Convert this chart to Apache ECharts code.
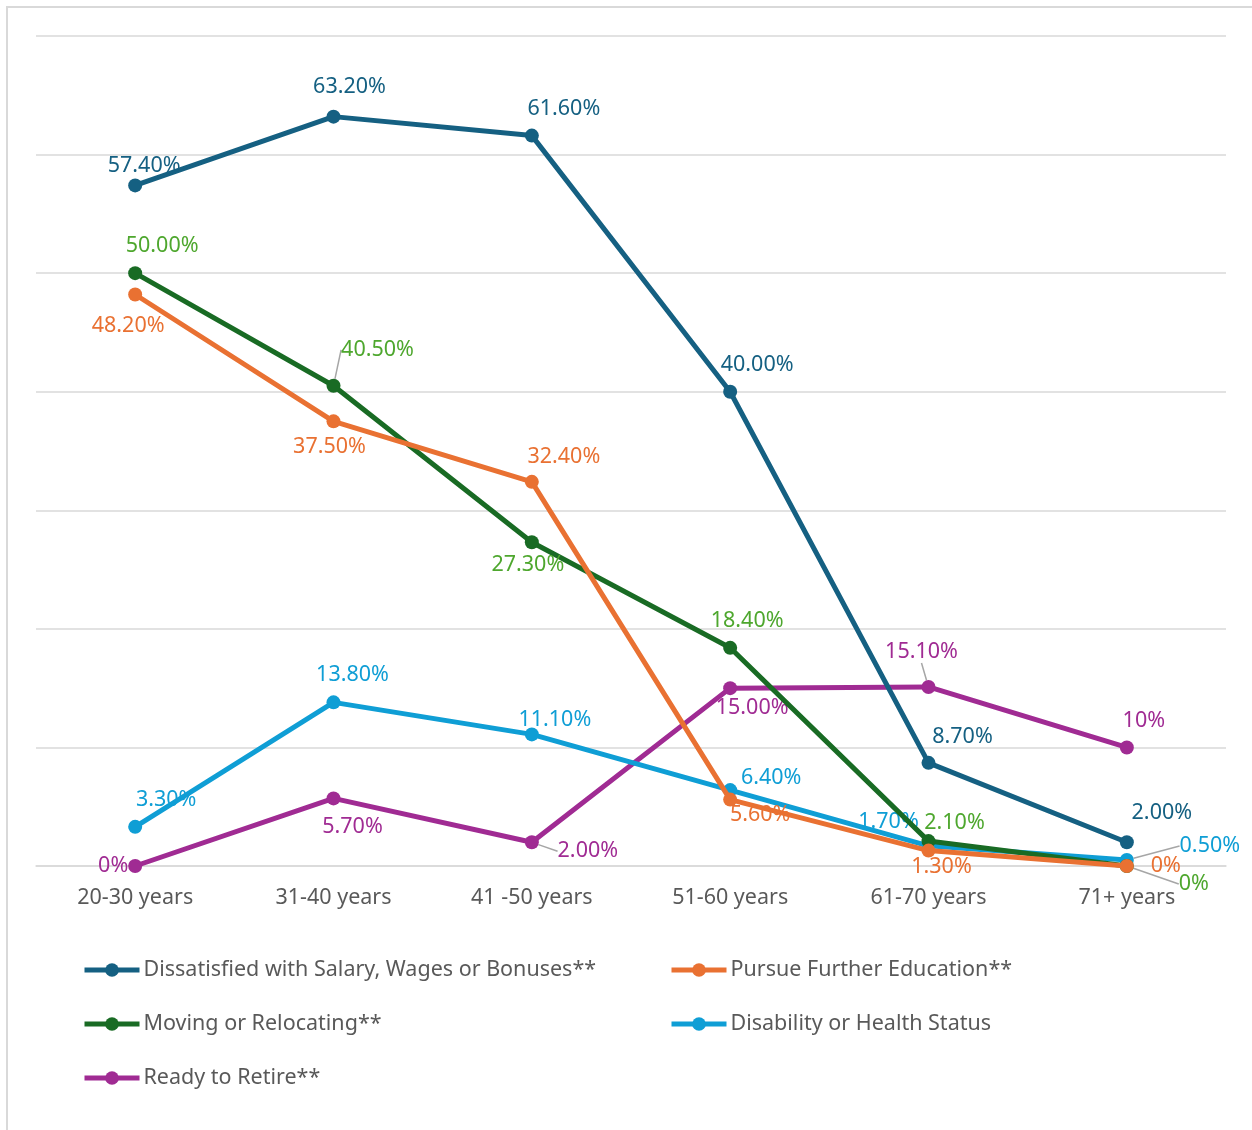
<!DOCTYPE html>
<html><head><meta charset="utf-8">
<script src="https://cdn.jsdelivr.net/npm/echarts@6/dist/echarts.min.js"></script>
<style>html,body{margin:0;padding:0;background:#fff}#c{width:1252px;height:1130px}</style>
</head><body><div id="c"></div>
<script>
const categories = ['20-30 years','31-40 years','41 -50 years','51-60 years','61-70 years','71+ years'];
const seriesNames = ['Dissatisfied with Salary, Wages or Bonuses**','Pursue Further Education**','Moving or Relocating**','Disability or Health Status','Ready to Retire**'];
const dissatisfied = [57.4, 63.2, 61.6, 40.0, 8.7, 2.0];
const education = [48.2, 37.5, 32.4, 5.6, 1.3, 0];
const moving = [50.0, 40.5, 27.3, 18.4, 2.1, 0];
const disability = [3.3, 13.8, 11.1, 6.4, 1.7, 0.5];
const retire = [0, 5.7, 2.0, 15.0, 15.1, 10];
const labelText = [
  ['57.40%','63.20%','61.60%','40.00%','8.70%','2.00%'],
  ['48.20%','37.50%','32.40%','5.60%','1.30%','0%'],
  ['50.00%','40.50%','27.30%','18.40%','2.10%','0%'],
  ['3.30%','13.80%','11.10%','6.40%','1.70%','0.50%'],
  ['0%','5.70%','2.00%','15.00%','15.10%','10%']
];

// label placement (offset of label centre from point), presentation only
const labelOffsets = [
  [[9,-20],[16,-30],[32,-27],[27,-27],[34,-26],[35,-29]],
  [[-7,31],[-4,26],[32,-25],[30,15],[13,16],[39,0]],
  [[27,-27],[44,-36],[-4,23],[17,-27],[26,-18],[67,18]],
  [[31,-27],[19,-27],[23,-15],[41,-12],[-40,-24],[83,-14]],
  [[-22,0],[19,28],[56,9],[22,20],[-7,-35],[17,-27]]
];
const leaders = {'2-1':1,'2-5':1,'3-5':1,'4-2':1,'4-4':1};

const lineColors = ['#156082','#E97132','#196B24','#0F9ED5','#A02B93'];
const labelColors = ['#156082','#E97132','#4EA72E','#0F9ED5','#A02B93'];
const allValues = [dissatisfied, education, moving, disability, retire];
const FONT = '"Noto Sans", sans-serif';

const series = allValues.map((vals, si) => ({
  name: seriesNames[si],
  type: 'line',
  data: vals.map((v, di) => {
    const item = {value: v};
    if (leaders[si + '-' + di]) item.labelLine = {show: true, lineStyle: {color: '#a6a6a6', width: 1.5}};
    return item;
  }),
  symbol: 'circle',
  symbolSize: 14,
  itemStyle: {color: lineColors[si]},
  lineStyle: {color: lineColors[si], width: 5},
  z: 10 - si,
  label: {
    show: true,
    position: 'inside',
    formatter: p => labelText[si][p.dataIndex],
    color: labelColors[si],
    fontFamily: FONT,
    fontSize: 21.5
  },
  labelLayout: p => ({dx: labelOffsets[si][p.dataIndex][0], dy: labelOffsets[si][p.dataIndex][1], hideOverlap: false}),
  emphasis: {disabled: true},
  animation: false
}));

const legendCommon = {
  orient: 'vertical', top: 958, padding: 0, itemWidth: 55, itemHeight: 17, itemGap: 30,
  lineStyle: {width: 5},
  textStyle: {color: '#595959', fontFamily: FONT, fontSize: 21.5, lineHeight: 24, padding: [0,0,0,-1]}
};

const chart = echarts.init(document.getElementById('c'), null, {renderer: 'canvas'});
chart.setOption({
  backgroundColor: '#fff',
  animation: false,
  grid: {left: 36, right: 26, top: 36, bottom: 264, containLabel: false},
  xAxis: {
    type: 'category', data: categories, boundaryGap: true,
    axisLine: {show: true, lineStyle: {color: '#d9d9d9', width: 1.5}},
    axisTick: {show: false},
    axisLabel: {color: '#595959', fontFamily: FONT, fontSize: 21.5, margin: 21}
  },
  yAxis: {
    type: 'value', min: 0, max: 70, interval: 10,
    axisLabel: {show: false}, axisLine: {show: false}, axisTick: {show: false},
    splitLine: {lineStyle: {color: '#d9d9d9', width: 1.5}}
  },
  legend: [
    Object.assign({data: [seriesNames[0], seriesNames[2], seriesNames[4]], left: 82}, legendCommon),
    Object.assign({data: [seriesNames[1], seriesNames[3]], left: 669}, legendCommon)
  ],
  graphic: [
    {type: 'polyline', silent: true, shape: {points: [[7,1140],[7,7],[1260,7]]}, style: {stroke: '#d9d9d9', lineWidth: 2, fill: null}}
  ],
  series: series
});
</script></body></html>
